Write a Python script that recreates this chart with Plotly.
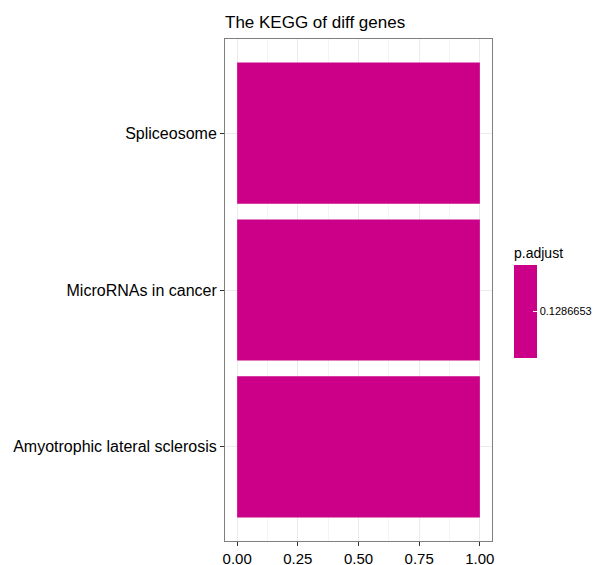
import plotly.graph_objects as go

# KEGG enrichment of diff genes
pathways = ["Amyotrophic lateral sclerosis", "MicroRNAs in cancer", "Spliceosome"]
gene_ratio = [1.0, 1.0, 1.0]
p_adjust = [0.1286653, 0.1286653, 0.1286653]
bar_color = "#CC0088"

fig = go.Figure()
fig.add_trace(go.Bar(
    x=gene_ratio,
    y=pathways,
    orientation="h",
    width=0.9,
    marker=dict(
        color=p_adjust,
        colorscale=[[0, bar_color], [1, bar_color]],
        cmin=0.12,
        cmax=0.1373306,
        showscale=True,
        line=dict(width=0),
        colorbar=dict(
            title=dict(text="p.adjust", side="top", font=dict(size=14, color="black")),
            tickvals=[0.1286653],
            ticktext=["0.1286653"],
            ticks="inside",
            tickcolor="white",
            ticklen=4,
            tickfont=dict(size=11, color="black"),
            thickness=23,
            len=0.227,
            lenmode="fraction",
            x=1.0824,
            xanchor="left",
            y=0.478,
            yanchor="middle",
            xpad=0,
            ypad=0,
            outlinewidth=0,
        ),
    ),
    hovertemplate="%{y}: %{x}<extra></extra>",
))

fig.update_layout(
    width=610,
    height=565,
    margin=dict(l=217, r=126, t=31, b=32, autoexpand=False),
    plot_bgcolor="white",
    paper_bgcolor="white",
    font=dict(family="Liberation Sans, Arial, sans-serif", color="black"),
    title=dict(text="The KEGG of diff genes", x=217 / 610, xanchor="left",
               xref="container", yref="container",
               y=1 - 14 / 565, yanchor="middle", font=dict(size=17, color="black")),
    showlegend=False,
    bargap=0.1,
)
fig.update_xaxes(
    automargin=False,
    range=[-0.05, 1.05],
    tickvals=[0, 0.25, 0.5, 0.75, 1.0],
    ticktext=["0.00", "0.25", "0.50", "0.75", "1.00"],
    tickfont=dict(size=15, color="black"),
    ticks="outside", ticklen=4, tickcolor="#333333",
    showgrid=True, gridcolor="#ebebeb", gridwidth=1,
    minor=dict(tickvals=[0.125, 0.375, 0.625, 0.875], showgrid=True,
               gridcolor="#f4f4f4", gridwidth=0.5),
    showline=True, linecolor="#7f7f7f", linewidth=1, mirror=True,
    zeroline=False,
)
fig.update_yaxes(
    automargin=False,
    range=[-0.6, 2.6],
    tickfont=dict(size=16, color="black"),
    ticks="outside", ticklen=4, tickcolor="#333333",
    showgrid=True, gridcolor="#ebebeb", gridwidth=1,
    showline=True, linecolor="#7f7f7f", linewidth=1, mirror=True,
    zeroline=False,
)

fig.write_html("out.html")
